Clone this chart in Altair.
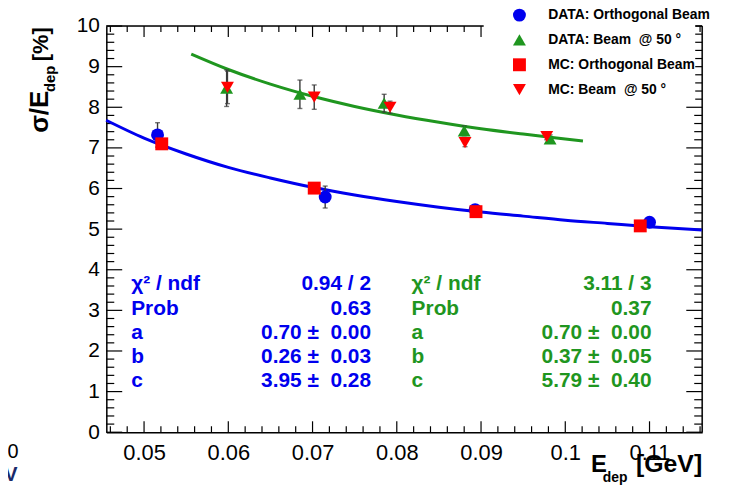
import altair as alt
import pandas as pd

# ---------------- data ----------------
series_names = ["DATA: Orthogonal Beam", "DATA: Beam\u00a0 @ 50 \u00b0",
                "MC: Orthogonal Beam", "MC: Beam\u00a0 @ 50 \u00b0"]

data_orth_E = [0.0516, 0.0715, 0.0893, 0.1100]
data_orth_res = [7.32, 5.79, 5.48, 5.17]
data_orth_err = [0.30, 0.27, 0.08, 0.08]

data_50_E = [0.0598, 0.0685, 0.0785, 0.0880, 0.0982]
data_50_res = [8.47, 8.32, 8.10, 7.42, 7.22]
data_50_err = [0.45, 0.35, 0.22, 0.12, 0.10]

mc_orth_E = [0.0521, 0.0702, 0.0894, 0.1089]
mc_orth_res = [7.10, 6.01, 5.43, 5.08]
mc_orth_err = [0.05, 0.05, 0.05, 0.05]

mc_50_E = [0.0599, 0.0702, 0.0792, 0.0881, 0.0978]
mc_50_res = [8.49, 8.25, 8.00, 7.13, 7.28]
mc_50_err = [0.40, 0.30, 0.15, 0.10, 0.08]

fit_orth_E = [0.0455, 0.050, 0.055, 0.060, 0.065, 0.070, 0.075, 0.080,
              0.085, 0.090, 0.095, 0.100, 0.105, 0.110, 0.1162]
fit_orth_res = [7.68, 7.24, 6.85, 6.52, 6.26, 6.03, 5.84, 5.68,
                5.54, 5.42, 5.32, 5.22, 5.14, 5.06, 4.98]

fit_50_E = [0.0556, 0.060, 0.065, 0.070, 0.075, 0.080, 0.085, 0.090,
            0.095, 0.100, 0.1021]
fit_50_res = [9.31, 8.93, 8.57, 8.27, 8.02, 7.81, 7.63, 7.47, 7.34, 7.22, 7.17]

stat_labels = ["\u03c7\u00b2 / ndf", "Prob", "a", "b", "c"]
stat_orth_vals = ["0.94 / 2", "0.63", "0.70 \u00b1 \u00a00.00",
                  "0.26 \u00b1 \u00a00.03", "3.95 \u00b1 \u00a00.28"]
stat_50_vals = ["3.11 / 3", "0.37", "0.70 \u00b1 \u00a00.00",
                "0.37 \u00b1 \u00a00.05", "5.79 \u00b1 \u00a00.40"]

x_major = [0.05, 0.06, 0.07, 0.08, 0.09, 0.10, 0.11]
y_major = [0, 1, 2, 3, 4, 5, 6, 7, 8, 9, 10]

# ---------------- styling ----------------
W, H = 600, 409
FONT = "Liberation Sans"
BLUE = "#0000ee"
GREEN = "#1f961f"
RED = "#ff0000"
colors = [BLUE, GREEN, RED, RED]
shapes = ["circle", "triangle-up", "square", "triangle-down"]

x_minor = [round(0.046 + 0.002 * i, 3) for i in range(36)]
x_minor = [v for v in x_minor if all(abs(v - m) > 1e-6 for m in x_major)]
y_minor = [round(0.2 * i, 1) for i in range(51) if i % 5]

xscale = alt.Scale(domain=[0.04552, 0.11625], nice=False, zero=False)
yscale = alt.Scale(domain=[0, 10], nice=False, zero=False)
xaxis = alt.Axis(values=x_major, format="~g", title=None, grid=False, ticks=False,
                 tickSize=0, labelFontSize=22, labelFont=FONT, labelColor="black",
                 labelPadding=10, domainColor="black", domainWidth=1.5)
yaxis = alt.Axis(values=y_major, format="d", title=None, grid=False, ticks=False,
                 tickSize=0, labelFontSize=21, labelFont=FONT, labelColor="black",
                 labelPadding=7, domainColor="black", domainWidth=1.5)


def X(f):
    return alt.X(f + ":Q", scale=xscale, axis=xaxis)


def Y(f):
    return alt.Y(f + ":Q", scale=yscale, axis=yaxis)


one = pd.DataFrame({"k": [0]})

# ---------------- tick marks (inward, ROOT style) ----------------
def yticks(vals, x0, x1):
    return alt.Chart(pd.DataFrame({"res": vals})).mark_rule(color="black", strokeWidth=1.2).encode(
        y=Y("res"), x=alt.value(x0), x2=alt.value(x1))


def xticks(vals, y0, y1):
    return alt.Chart(pd.DataFrame({"E": vals})).mark_rule(color="black", strokeWidth=1.2).encode(
        x=X("E"), y=alt.value(y0), y2=alt.value(y1))


tick_layers = [
    yticks(y_major, 0, 16), yticks(y_minor, 0, 8),
    yticks(y_major, W - 16, W), yticks(y_minor, W - 8, W),
    xticks(x_major, H, H - 11), xticks(x_minor, H, H - 6),
    xticks(x_major, 0, 11), xticks(x_minor, 0, 6),
]

frame_top = alt.Chart(one).mark_rule(color="black", strokeWidth=1.5).encode(
    x=alt.value(0), x2=alt.value(W), y=alt.value(0))
frame_right = alt.Chart(one).mark_rule(color="black", strokeWidth=1.5).encode(
    x=alt.value(W), y=alt.value(0), y2=alt.value(H))

# ---------------- fits ----------------
fit_orth = alt.Chart(pd.DataFrame({"E": fit_orth_E, "res": fit_orth_res})).mark_line(
    color=BLUE, strokeWidth=3, interpolate="monotone").encode(x=X("E"), y=Y("res"))
fit_50 = alt.Chart(pd.DataFrame({"E": fit_50_E, "res": fit_50_res})).mark_line(
    color=GREEN, strokeWidth=3, interpolate="monotone").encode(x=X("E"), y=Y("res"))

# ---------------- points & errors ----------------
groups = [(data_orth_E, data_orth_res, data_orth_err),
          (data_50_E, data_50_res, data_50_err),
          (mc_orth_E, mc_orth_res, mc_orth_err),
          (mc_50_E, mc_50_res, mc_50_err)]
rows = []
for gi, (es, rs, errs) in enumerate(groups):
    for e, r, er in zip(es, rs, errs):
        rows.append({"series": series_names[gi], "k": gi, "E": e, "res": r,
                     "lo": r - er, "hi": r + er})
pts = pd.DataFrame(rows)

err_rule = alt.Chart(pts).mark_rule(color="#3a3a3a", strokeWidth=1.4).encode(
    x=X("E"), y=Y("lo"), y2=alt.Y2("hi"))
cap_lo = alt.Chart(pts).mark_tick(color="#3a3a3a", orient="horizontal", size=5, thickness=1.4).encode(
    x=X("E"), y=Y("lo"))
cap_hi = alt.Chart(pts).mark_tick(color="#3a3a3a", orient="horizontal", size=5, thickness=1.4).encode(
    x=X("E"), y=Y("hi"))

legend = alt.Legend(title=None, orient="none", legendX=409, legendY=-18, padding=0,
                    labelFont=FONT, labelFontSize=14, labelFontWeight="bold",
                    labelColor="black", labelLimit=0, symbolSize=169,
                    symbolStrokeWidth=0, labelOffset=22, rowPadding=11)

points = alt.Chart(pts).mark_point(filled=True, opacity=1, size=169, strokeWidth=0).encode(
    x=X("E"), y=Y("res"),
    color=alt.Color("series:N", scale=alt.Scale(domain=series_names, range=colors), legend=legend),
    shape=alt.Shape("series:N", scale=alt.Scale(domain=series_names, range=shapes), legend=legend),
    order=alt.Order("k:Q"),
)

# legend box (white, covers the frame corner like in ROOT)
legend_box = alt.Chart(one).mark_rect(color="white").encode(
    x=alt.value(380), x2=alt.value(593), y=alt.value(-25), y2=alt.value(75))

# ---------------- fit statistics boxes ----------------
row_y = [3.64, 3.04, 2.44, 1.86, 1.26]


def stat_text(texts, xpos, align, color):
    df = pd.DataFrame({"E": [xpos] * len(texts), "res": row_y, "t": texts})
    return alt.Chart(df).mark_text(align=align, baseline="middle", font=FONT, fontSize=21,
                                   fontWeight="bold", color=color).encode(
        x=X("E"), y=Y("res"), text="t:N")


stats = [
    stat_text(stat_labels, 0.04847, "left", BLUE),
    stat_text(stat_orth_vals, 0.07694, "right", BLUE),
    stat_text(stat_labels, 0.08176, "left", GREEN),
    stat_text(stat_50_vals, 0.11024, "right", GREEN),
]

# ---------------- axis titles (with subscripts) ----------------
def label(txt, x, y, size, angle=0, align="left", baseline="alphabetic", weight="bold", color="black"):
    return alt.Chart(one).mark_text(text=txt, font=FONT, fontSize=size, fontWeight=weight,
                                    color=color, angle=angle, align=align, baseline=baseline).encode(
        x=alt.value(x), y=alt.value(y))


titles = [
    label("\u03c3/E", -59, 107.5, 26, angle=270),
    label("dep", -52, 66.5, 15, angle=270),
    label("[%]", -59, 35.5, 22, angle=270),
    label("E", 488, 449, 24),
    label("dep", 500, 459, 14),
    label("[GeV]", W, 449, 25, align="right"),
    label("0", -94, 435, 20, align="center", weight="normal"),
    label("V", -96, 458, 20, align="center", color="#1a2a6a"),
]

chart = alt.layer(
    *tick_layers, frame_top, frame_right,
    fit_orth, fit_50,
    err_rule, cap_lo, cap_hi,
    points,
    legend_box,
    *stats,
    *titles,
).properties(
    width=W, height=H,
    padding={"left": 99, "top": 16.5, "right": 25, "bottom": 54},
    autosize=alt.AutoSizeParams(type="none"),
).configure_view(stroke=None).configure(background="white")

chart.save("out.html", embed_options={"renderer": "svg", "actions": False})
